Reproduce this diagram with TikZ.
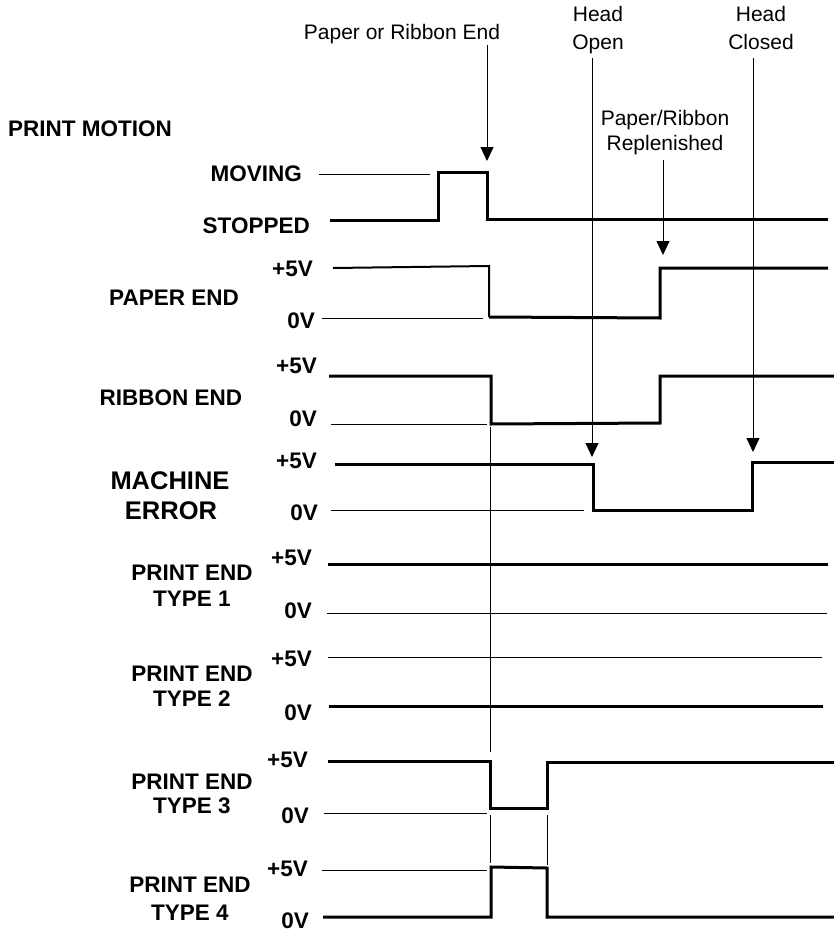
\documentclass[tikz,border=0pt]{standalone}
\usepackage{fontspec}
\setmainfont{Liberation Sans}
\usetikzlibrary{arrows.meta}
\begin{document}
\begin{tikzpicture}[x=1pt,y=-1pt,
  thinln/.style={line width=1pt},
  medln/.style={line width=2pt},
  thickln/.style={line width=3pt, line join=miter},
  marker/.style={line width=1pt, -{Triangle[width=13pt,length=14pt]}},
  note/.style={inner sep=0pt, anchor=base, font=\fontsize{21}{24}\selectfont},
  lab/.style={inner sep=0pt, anchor=base east, font=\fontsize{22.5}{25}\selectfont\bfseries},
  biglab/.style={inner sep=0pt, anchor=base, font=\fontsize{22.5}{25}\selectfont\bfseries},
  hugelab/.style={inner sep=0pt, anchor=base, font=\fontsize{25.5}{28}\selectfont\bfseries}]
\useasboundingbox (0,0) rectangle (834,931);

% annotations
\node[note] (pre) at (402,39.5) {Paper or Ribbon End};
\node[note] (ho1) at (598,21.5) {Head};
\node[note] (ho2) at (598,49.5) {Open};
\node[note] (hc1) at (761,21.5) {Head};
\node[note] (hc2) at (761,49.5) {Closed};
\node[note] (rp1) at (665,125.5) {Paper/Ribbon};
\node[note] (rp2) at (665,150.5) {Replenished};

\coordinate (a1s) at (487,45);  \coordinate (a1e) at (487,161);
\coordinate (a2s) at (592,58);  \coordinate (a2e) at (592,457);
\coordinate (a3s) at (753,58);  \coordinate (a3e) at (753,452);
\coordinate (a4s) at (663,160); \coordinate (a4e) at (663,255);
\draw[marker] (a1s) -- (a1e);
\draw[marker] (a2s) -- (a2e);
\draw[marker] (a3s) -- (a3e);
\draw[marker] (a4s) -- (a4e);

% labels
\node[inner sep=0pt, anchor=base west, font=\fontsize{22.5}{25}\selectfont\bfseries] (pm) at (8,136) {PRINT MOTION};
\node[lab] (mov) at (302,181) {MOVING};
\node[lab] (stp) at (310,233) {STOPPED};

\node[biglab] (pe) at (174,305) {PAPER END};
\node[lab] (pe5) at (313,276) {+5V};
\node[lab] (pe0) at (315,328) {0V};

\node[biglab] (re) at (171,405) {RIBBON END};
\node[lab] (re5) at (317,373) {+5V};
\node[lab] (re0) at (317,426) {0V};

\node[hugelab] (me1) at (170,489) {MACHINE};
\node[hugelab] (me2) at (171,519) {ERROR};
\node[lab] (me5) at (317,468) {+5V};
\node[lab] (me0) at (318,520) {0V};

\node[biglab] (t1a) at (192,580) {PRINT END};
\node[biglab] (t1b) at (192,606) {TYPE 1};
\node[lab] (t15) at (312,565) {+5V};
\node[lab] (t10) at (312,618) {0V};

\node[biglab] (t2a) at (192,681) {PRINT END};
\node[biglab] (t2b) at (192,706) {TYPE 2};
\node[lab] (t25) at (312,666) {+5V};
\node[lab] (t20) at (312,720) {0V};

\node[biglab] (t3a) at (192,789) {PRINT END};
\node[biglab] (t3b) at (192,813) {TYPE 3};
\node[lab] (t35) at (308,767) {+5V};
\node[lab] (t30) at (309,823) {0V};

\node[biglab] (t4a) at (190,892) {PRINT END};
\node[biglab] (t4b) at (190,920) {TYPE 4};
\node[lab] (t45) at (308,876) {+5V};
\node[lab] (t40) at (309,928) {0V};

% print motion
\draw[thinln] (319,174) -- (430,174);
\draw[thickln] (330,220) -- (438,220) -- (438,172) -- (487,172) -- (487,219) -- (828,219);

% paper end
\draw[medln] (333,268) -- (489,266) -- (489,317);
\draw[thickln] (489,317) -- (660,318) -- (660,268) -- (828,268);
\draw[thinln] (322,318) -- (483,318);

% ribbon end
\draw[thickln] (329,376) -- (491,376) -- (491,424) -- (660,423) -- (660,376) -- (834,376);
\draw[thinln] (331,424) -- (487,424);
\draw[thinln] (490,427) -- (490,752);

% machine error
\draw[thickln] (335,464) -- (593,464) -- (593,510) -- (752,510) -- (752,462) -- (834,462);
\draw[thinln] (331,510) -- (584,510);

% type 1
\draw[thickln] (328,564) -- (828,564);
\draw[thinln] (327,613) -- (827,613);

% type 2
\draw[thinln] (328,657) -- (822,657);
\draw[thickln] (329,706) -- (823,706);

% type 3
\draw[thickln] (328,761) -- (490,761) -- (490,808) -- (547,808) -- (547,762) -- (834,762);
\draw[thinln] (324,813) -- (487,813);
\draw[thinln] (490,815) -- (490,863);
\draw[thinln] (547,815) -- (547,865);

% type 4
\draw[thinln] (322,870) -- (487,870);
\draw[thickln] (323,917) -- (491,917) -- (491,867) -- (547,868) -- (547,917) -- (834,917);
\end{tikzpicture}
\end{document}
